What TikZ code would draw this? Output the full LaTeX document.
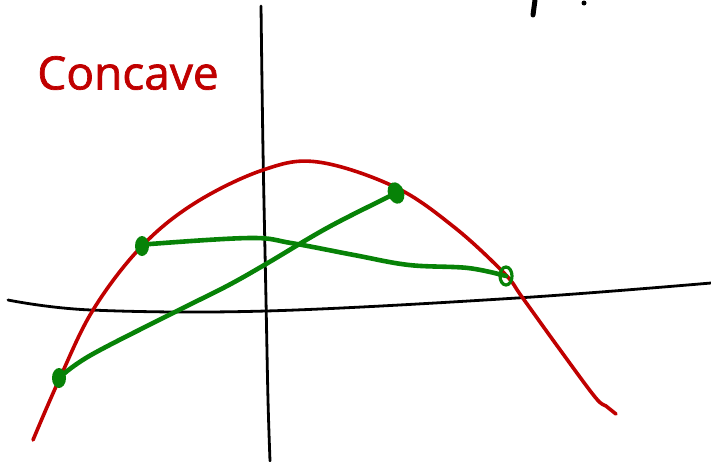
\documentclass[tikz,border=0pt]{standalone}
\usepackage{fontspec}
\newfontfamily\handfont{Open Sans}[FakeBold=1.5]
\definecolor{sred}{HTML}{C00000}
\definecolor{sgreen}{HTML}{078207}
\tikzset{
  axisline/.style={black, line width=2.8pt, line cap=round},
  redcurve/.style={sred, line width=3.6pt, line cap=round, line join=round},
  greenline/.style={sgreen, line width=4.6pt, line cap=round, line join=round},
  greendot/.style={sgreen, fill=sgreen},
}
\begin{document}
\begin{tikzpicture}[x=1pt,y=-1pt]
\useasboundingbox (0,0) rectangle (711,461);
% axes
\draw[axisline] plot[smooth, tension=0.6] coordinates {(261,6) (263,150) (266,300) (268,400) (270,461)};
\draw[axisline] plot[smooth, tension=0.6] coordinates {(8,300) (91,310) (266,311) (517,298) (711,283)};
% red concave curve
\draw[redcurve] plot[smooth, tension=0.6] coordinates {(33,440) (59,380) (93,310) (141,247) (195,203) (263,170) (318,162) (395,187) (454,227) (504,273) (522,297) (558,347) (595,397) (606,406) (616,414)};
% green chords
\coordinate (p1) at (59,378);
\coordinate (p2) at (142,246);
\coordinate (p3) at (396,193);
\coordinate (p4) at (506,276);
\draw[greenline] plot[smooth, tension=0.6] coordinates {(p1) (91,355) (177,311) (227,286) (266,264) (327,228) (386,198) (p3)};
\draw[greenline] plot[smooth, tension=0.6] coordinates {(p2) (150,244) (250,238) (291,243) (354,255) (409,265) (468,268) (p4)};
% dots
\fill[greendot] (p1) ellipse (7pt and 10pt);
\fill[greendot] (p2) ellipse (7pt and 10pt);
\fill[greendot, rotate around={20:(p3)}] (p3) ellipse (8pt and 11pt);
\draw[sgreen, line width=3.2pt] (p4) ellipse (6pt and 9pt);
% label
\node[sred, font=\handfont\fontsize{46}{46}\selectfont, anchor=center] (lbl) at (128,73) {Concave};
% top right marks
\draw[black, line width=5pt, line cap=round] (535,0) -- (533,15);
\fill[black] (584,3) circle (2.5pt);
\end{tikzpicture}
\end{document}
